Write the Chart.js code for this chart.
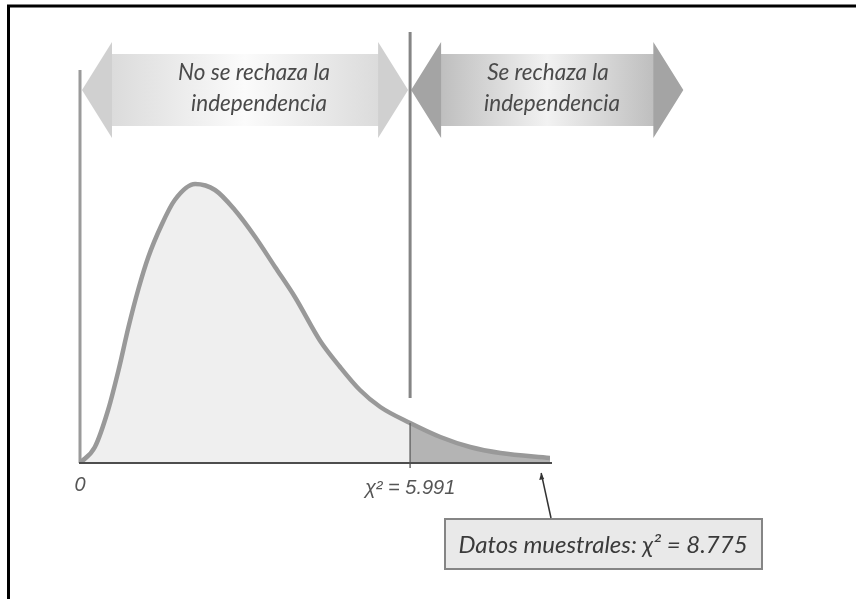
<!DOCTYPE html>
<html>
<head>
<meta charset="utf-8">
<script src="https://cdn.jsdelivr.net/npm/chart.js@4"></script>
<style>
  body { margin: 0; background: #fff; }
  #wrap { width: 856px; height: 599px; position: relative; }
</style>
</head>
<body>
<div id="wrap"><canvas id="grafica"></canvas></div>
<script>
// valores (chi-cuadrado, unidades del eje x)
const xValues = [0, 0.27, 0.51, 0.70, 0.88, 1.06, 1.24, 1.48, 1.72, 2.09, 2.45, 2.81, 3.18, 3.54, 3.90, 4.36, 4.72, 5.08, 5.45, 5.991, 6.54, 7.08, 7.63, 8.53];
const density = [0, 0.016, 0.053, 0.093, 0.136, 0.174, 0.206, 0.238, 0.263, 0.279, 0.273, 0.253, 0.226, 0.196, 0.166, 0.122, 0.096, 0.073, 0.056, 0.040, 0.026, 0.016, 0.010, 0.005];
const critico = 5.991;
const muestral = 8.775;
const regionLabels = [['No se rechaza la', 'independencia'], ['Se rechaza la', 'independencia']];
const xLabels = ['0', 'χ² = 5.991'];
const notaTexto = 'Datos muestrales: χ² = ' + muestral;
const flechaPunta = 8.37; // donde apunta la flecha de la nota en el dibujo
const finFlechaDerecha = 10.95;

const curva = xValues.map((x, i) => ({ x: x, y: density[i] }));
const cuerpo = curva.filter(p => p.x <= critico);
const cola = curva.filter(p => p.x >= critico);

const hand = '"Lato", "Open Sans", sans-serif';

function flecha(ctx, x0, x1, cy, colorPunta, colorCentro, colorBorde) {
  const hw = 30;      // ancho cabeza
  const hh = 48;      // media altura cabeza
  const bh = 36;      // media altura cuerpo
  const g = ctx.createLinearGradient(x0, 0, x1, 0);
  g.addColorStop(0, colorBorde);
  g.addColorStop(0.5, colorCentro);
  g.addColorStop(1, colorBorde);
  ctx.beginPath();
  ctx.moveTo(x0, cy);
  ctx.lineTo(x0 + hw, cy - hh);
  ctx.lineTo(x0 + hw, cy - bh);
  ctx.lineTo(x1 - hw, cy - bh);
  ctx.lineTo(x1 - hw, cy - hh);
  ctx.lineTo(x1, cy);
  ctx.lineTo(x1 - hw, cy + hh);
  ctx.lineTo(x1 - hw, cy + bh);
  ctx.lineTo(x0 + hw, cy + bh);
  ctx.lineTo(x0 + hw, cy + hh);
  ctx.closePath();
  ctx.fillStyle = colorPunta;
  ctx.fill();
  ctx.beginPath();
  ctx.rect(x0 + hw, cy - bh, x1 - x0 - 2 * hw, bh * 2);
  ctx.fillStyle = g;
  ctx.fill();
}

const decoracion = {
  id: 'decoracion',
  beforeDraw(chart) {
    const ctx = chart.ctx;
    ctx.save();
    ctx.fillStyle = '#fff';
    ctx.fillRect(0, 0, chart.width, chart.height);
    ctx.restore();
  },
  afterDatasetsDraw(chart) {
    const ctx = chart.ctx;
    const xs = chart.scales.x, ys = chart.scales.y;
    const a = chart.chartArea;
    const x0 = xs.getPixelForValue(0);
    const xc = xs.getPixelForValue(critico);
    const y0 = ys.getPixelForValue(0);
    ctx.save();

    // marco
    ctx.strokeStyle = '#000';
    ctx.lineWidth = 3;
    ctx.beginPath();
    ctx.moveTo(8.5, chart.height + 5);
    ctx.lineTo(8.5, 6);
    ctx.lineTo(chart.width + 5, 6);
    ctx.stroke();

    // flechas superiores
    flecha(ctx, x0 + 2, xc - 2, 90, '#d0d0d0', '#fbfbfb', '#d4d4d4');
    flecha(ctx, xc + 1, xs.getPixelForValue(finFlechaDerecha), 90, '#a4a4a4', '#f2f2f2', '#b0b0b0');

    ctx.fillStyle = '#4a4a4a';
    ctx.textAlign = 'center';
    ctx.textBaseline = 'middle';
    ctx.font = 'italic 22.5px ' + hand;
    ctx.fillText(regionLabels[0][0], 254, 73);
    ctx.fillText(regionLabels[0][1], 259, 104);
    ctx.fillText(regionLabels[1][0], 548, 73);
    ctx.fillText(regionLabels[1][1], 552, 104);

    // linea del valor critico
    ctx.strokeStyle = '#858585';
    ctx.lineWidth = 3;
    ctx.beginPath();
    ctx.moveTo(xc, 32);
    ctx.lineTo(xc, 398);
    ctx.stroke();
    const yCurva = ys.getPixelForValue(density[xValues.indexOf(critico)]);
    ctx.strokeStyle = '#6a6a6a';
    ctx.lineWidth = 1.5;
    ctx.beginPath();
    ctx.moveTo(xc, yCurva);
    ctx.lineTo(xc, y0 + 5);
    ctx.stroke();

    // ejes
    ctx.strokeStyle = '#9a9a9a';
    ctx.lineWidth = 3;
    ctx.beginPath();
    ctx.moveTo(x0, a.top);
    ctx.lineTo(x0, y0);
    ctx.stroke();
    ctx.strokeStyle = '#4d4d4d';
    ctx.lineWidth = 2;
    ctx.beginPath();
    ctx.moveTo(x0 - 1, y0);
    ctx.lineTo(xs.getPixelForValue(xValues[xValues.length - 1]) + 2, y0);
    ctx.stroke();

    // etiquetas del eje x
    ctx.fillStyle = '#555';
    ctx.font = 'italic 20px "Liberation Sans", sans-serif';
    ctx.textAlign = 'center';
    ctx.fillText(xLabels[0], x0, 485);
    ctx.fillText(xLabels[1], xc, 488);

    // nota
    ctx.fillStyle = '#e9e9e9';
    ctx.strokeStyle = '#858585';
    ctx.lineWidth = 2;
    ctx.fillRect(445, 519, 317, 50);
    ctx.strokeRect(445, 519, 317, 50);
    ctx.fillStyle = '#3a3a3a';
    ctx.textAlign = 'center';
    ctx.font = 'italic 24px ' + hand;
    ctx.fillText(notaTexto, 603, 545);

    const px = xs.getPixelForValue(flechaPunta);
    ctx.strokeStyle = '#333';
    ctx.lineWidth = 1.5;
    ctx.beginPath();
    ctx.moveTo(551, 518);
    ctx.lineTo(px, y0 + 10);
    ctx.stroke();
    ctx.fillStyle = '#333';
    ctx.beginPath();
    ctx.moveTo(px, y0 + 10);
    ctx.lineTo(px - 2, y0 + 17);
    ctx.lineTo(px + 3, y0 + 16);
    ctx.closePath();
    ctx.fill();

    ctx.restore();
  }
};

const ctx = document.getElementById('grafica').getContext('2d');

new Chart(ctx, {
  type: 'line',
  data: {
    datasets: [
      {
        label: 'Chi-cuadrado',
        data: curva,
        borderColor: '#999999',
        borderWidth: 4.5,
        fill: false,
        cubicInterpolationMode: 'monotone',
        pointRadius: 0,
        order: 0,
      },
      {
        label: 'Region de no rechazo',
        data: cuerpo,
        borderColor: 'transparent',
        borderWidth: 0,
        backgroundColor: '#efefef',
        fill: 'origin',
        cubicInterpolationMode: 'monotone',
        pointRadius: 0,
        order: 1,
      },
      {
        label: 'Region de rechazo',
        data: cola,
        borderColor: 'transparent',
        borderWidth: 0,
        backgroundColor: '#b4b4b4',
        fill: 'origin',
        cubicInterpolationMode: 'monotone',
        pointRadius: 0,
        order: 1,
      },
    ],
  },
  options: {
    responsive: true,
    maintainAspectRatio: false,
    animation: false,
    layout: { padding: { left: 80, right: 306, top: 70, bottom: 136 } },
    plugins: {
      legend: { display: false },
      tooltip: { enabled: false },
    },
    scales: {
      x: { type: 'linear', min: 0, max: 8.53, display: false },
      y: { min: 0, max: 0.393, display: false },
    },
  },
  plugins: [decoracion],
});
</script>
</body>
</html>
